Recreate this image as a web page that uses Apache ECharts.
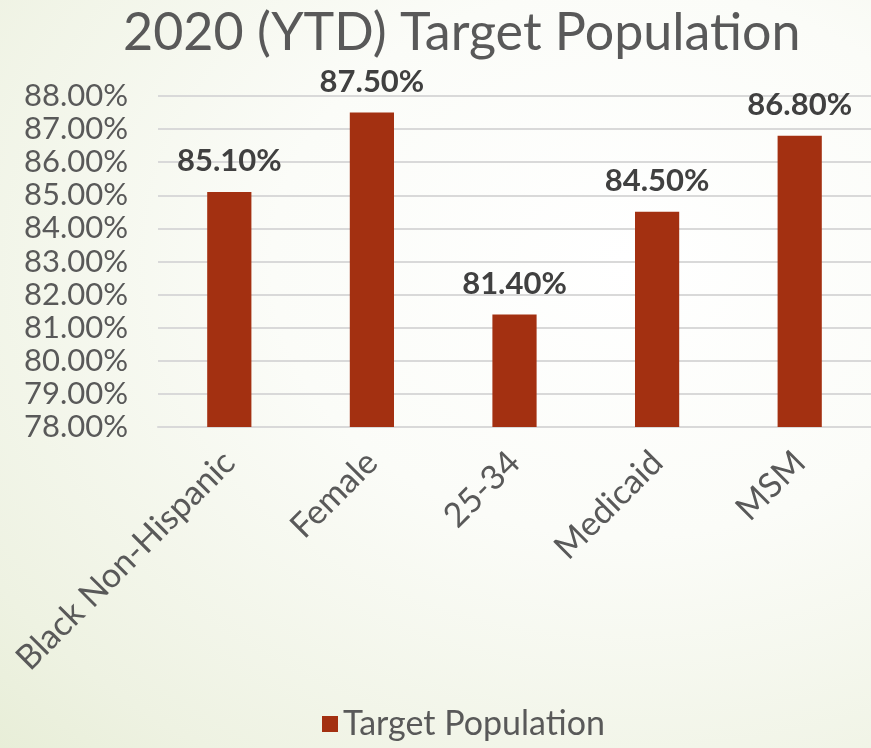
<!DOCTYPE html>
<html>
<head>
<meta charset="utf-8">
<script src="https://cdn.jsdelivr.net/npm/echarts@6/dist/echarts.min.js"></script>
<style>
  html, body { margin: 0; padding: 0; }
  body {
    width: 871px;
    height: 748px;
    background: radial-gradient(ellipse at 72% 35%, #ffffff 0%, #fbfcf8 40%, #eef2e2 85%, #e8eed8 100%);
  }
  #chart { width: 871px; height: 748px; }
</style>
</head>
<body>
<div id="chart"></div>
<script>
// 数据
const categories = ['Black Non-Hispanic', 'Female', '25-34', 'Medicaid', 'MSM']
const values = [85.1, 87.5, 81.4, 84.5, 86.8]
const seriesName = 'Target Population'
const yMin = 78
const yMax = 88
const yStep = 1

const FONT = 'Lato'
const chart = echarts.init(document.getElementById('chart'), null, { renderer: 'canvas' })

chart.setOption({
  backgroundColor: 'transparent',
  animation: false,
  title: {
    text: '2020 (YTD) Target Population',
    left: 118,
    top: 2,
    textStyle: { color: '#595959', fontFamily: FONT, fontWeight: 'normal', fontSize: 52 }
  },
  legend: {
    bottom: 2,
    left: 317,
    icon: 'rect',
    itemWidth: 16,
    itemHeight: 16,
    itemGap: 6,
    textStyle: { color: '#595959', fontFamily: FONT, fontSize: 34 },
    data: [seriesName]
  },
  grid: { left: 158, right: -12, top: 96, bottom: 321, containLabel: false },
  xAxis: {
    type: 'category',
    data: categories,
    axisLine: { lineStyle: { color: '#d9d9d9', width: 2 } },
    axisTick: { show: false },
    axisLabel: { color: '#595959', fontFamily: FONT, fontSize: 34, rotate: 45, margin: 30, interval: 0 }
  },
  yAxis: {
    type: 'value',
    min: yMin,
    max: yMax,
    interval: yStep,
    axisLine: { show: false },
    axisTick: { show: false },
    splitLine: { lineStyle: { color: '#d9d9d9', width: 2 } },
    axisLabel: {
      color: '#595959', fontFamily: FONT, fontSize: 31, margin: 30,
      formatter: v => v.toFixed(2) + '%'
    }
  },
  series: [{
    name: seriesName,
    type: 'bar',
    data: values,
    barWidth: '31%',
    itemStyle: { color: '#a33011' },
    label: {
      show: true,
      position: 'top',
      distance: 15,
      color: '#404040',
      fontFamily: FONT,
      fontWeight: 'bold',
      fontSize: 31,
      formatter: p => p.value.toFixed(2) + '%'
    }
  }]
})
</script>
</body>
</html>
